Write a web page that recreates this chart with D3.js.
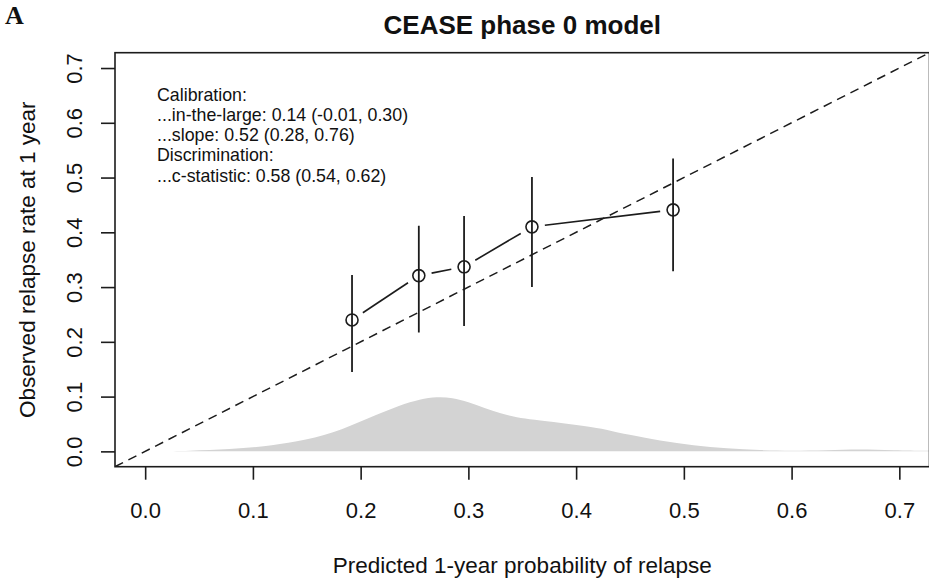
<!DOCTYPE html>
<html>
<head>
<meta charset="utf-8">
<script src="https://cdn.jsdelivr.net/npm/d3@7"></script>
<style>
  body { margin: 0; background: #fff; }
  svg { display: block; }
  text { font-family: "Liberation Sans", Arial, Helvetica, sans-serif; fill: #111; }
</style>
</head>
<body>
<svg id="chart" width="929" height="580"></svg>
<script>
// Grouped calibration points: mean predicted risk vs observed relapse rate
const predicted = [0.192, 0.254, 0.296, 0.359, 0.490];
const observed  = [0.240, 0.321, 0.337, 0.410, 0.441];
const ciLower   = [0.145, 0.217, 0.229, 0.300, 0.329];
const ciUpper   = [0.322, 0.412, 0.430, 0.501, 0.535];

// Distribution of predicted probabilities (scaled density strip along the bottom)
const densityX = [0.010, 0.040, 0.080, 0.110, 0.140, 0.175, 0.206, 0.237, 0.255, 0.271,
                  0.285, 0.300, 0.315, 0.330, 0.345, 0.360, 0.385, 0.416, 0.432, 0.447,
                  0.478, 0.509, 0.540, 0.571, 0.600, 0.633, 0.663, 0.694, 0.728];
const densityY = [0.000, 0.001, 0.004, 0.009, 0.017, 0.033, 0.060, 0.085, 0.095, 0.100,
                  0.098, 0.090, 0.079, 0.069, 0.062, 0.058, 0.052, 0.044, 0.038, 0.031,
                  0.019, 0.011, 0.005, 0.002, 0.001, 0.002, 0.004, 0.002, 0.001];

const xTicks = [0.0, 0.1, 0.2, 0.3, 0.4, 0.5, 0.6, 0.7];
const yTicks = [0.0, 0.1, 0.2, 0.3, 0.4, 0.5, 0.6, 0.7];
const axisLimits = [-0.028, 0.728];

const statLines = [
  "Calibration:",
  "...in-the-large: 0.14 (-0.01, 0.30)",
  "...slope: 0.52 (0.28, 0.76)",
  "Discrimination:",
  "...c-statistic: 0.58 (0.54, 0.62)"
];

const chartTitle = "CEASE phase 0 model";
const xTitle = "Predicted 1-year probability of relapse";
const yTitle = "Observed relapse rate at 1 year";
const panelLabel = "A";

const svg = d3.select("#chart");
const plot = { left: 115, top: 52.7, right: 929.5, bottom: 466.7 };
const ink = "#1c1c1c";

const x = d3.scaleLinear().domain(axisLimits).range([plot.left, plot.right]);
const y = d3.scaleLinear().domain(axisLimits).range([plot.bottom, plot.top]);

svg.append("defs").append("clipPath").attr("id", "plot-clip")
  .append("rect")
  .attr("x", plot.left).attr("y", plot.top)
  .attr("width", plot.right - plot.left).attr("height", plot.bottom - plot.top);

const body = svg.append("g").attr("clip-path", "url(#plot-clip)");

// density strip
const density = densityX.map((d, i) => ({ x: d, y: densityY[i] }));
body.append("path")
  .datum(density)
  .attr("fill", "#d3d3d3")
  .attr("d", d3.area()
    .x(d => x(d.x))
    .y0(y(0))
    .y1(d => y(d.y))
    .curve(d3.curveBasis));

// ideal calibration line
body.append("line")
  .attr("x1", x(axisLimits[0])).attr("y1", y(axisLimits[0]))
  .attr("x2", x(axisLimits[1])).attr("y2", y(axisLimits[1]))
  .attr("stroke", ink).attr("stroke-width", 1.5)
  .attr("stroke-dasharray", "9,6");

const pts = predicted.map((p, i) => ({
  p, o: observed[i], lo: ciLower[i], hi: ciUpper[i]
}));

// confidence intervals
body.selectAll("line.ci").data(pts).join("line")
  .attr("class", "ci")
  .attr("x1", d => x(d.p)).attr("x2", d => x(d.p))
  .attr("y1", d => y(d.lo)).attr("y2", d => y(d.hi))
  .attr("stroke", ink).attr("stroke-width", 1.8);

// connecting segments, stopping short of each marker
const gap = 13;
const segs = d3.pairs(pts).map(([a, b]) => {
  const ax = x(a.p), ay = y(a.o), bx = x(b.p), by = y(b.o);
  const len = Math.hypot(bx - ax, by - ay);
  const ux = (bx - ax) / len, uy = (by - ay) / len;
  return { x1: ax + ux * gap, y1: ay + uy * gap, x2: bx - ux * gap, y2: by - uy * gap };
});
body.selectAll("line.seg").data(segs).join("line")
  .attr("class", "seg")
  .attr("x1", d => d.x1).attr("y1", d => d.y1)
  .attr("x2", d => d.x2).attr("y2", d => d.y2)
  .attr("stroke", ink).attr("stroke-width", 1.6);

// markers
body.selectAll("circle.pt").data(pts).join("circle")
  .attr("class", "pt")
  .attr("cx", d => x(d.p)).attr("cy", d => y(d.o))
  .attr("r", 6)
  .attr("fill", "none").attr("stroke", ink).attr("stroke-width", 1.6);

// plot frame
svg.append("rect")
  .attr("x", plot.left).attr("y", plot.top)
  .attr("width", plot.right - plot.left).attr("height", plot.bottom - plot.top)
  .attr("fill", "none").attr("stroke", ink).attr("stroke-width", 1.6);

// x axis
const gx = svg.append("g")
  .attr("transform", `translate(0,${plot.bottom})`)
  .call(d3.axisBottom(x).tickValues(xTicks).tickFormat(d3.format(".1f"))
    .tickSize(13).tickPadding(23));
gx.select(".domain").remove();
gx.selectAll(".tick line").attr("stroke", ink).attr("stroke-width", 1.6);
gx.selectAll(".tick text").attr("font-size", 22).attr("fill", "#111")
  .style("font-family", '"Liberation Sans", Arial, sans-serif');

// y axis, labels parallel to the axis
const gy = svg.append("g")
  .attr("transform", `translate(${plot.left},0)`)
  .call(d3.axisLeft(y).tickValues(yTicks).tickFormat(d3.format(".1f")).tickSize(14));
gy.select(".domain").remove();
gy.selectAll(".tick line").attr("stroke", ink).attr("stroke-width", 1.6);
gy.selectAll(".tick text")
  .attr("x", null).attr("dy", null)
  .attr("text-anchor", "middle")
  .attr("transform", "translate(-33,0) rotate(-90)")
  .attr("font-size", 22).attr("fill", "#111")
  .style("font-family", '"Liberation Sans", Arial, sans-serif');

// stats block
svg.append("g").selectAll("text").data(statLines).join("text")
  .attr("x", 157)
  .attr("y", (d, i) => 100.5 + i * 20.3)
  .attr("font-size", 17.8)
  .text(d => d);

// titles
svg.append("text")
  .attr("x", (plot.left + plot.right) / 2).attr("y", 34)
  .attr("text-anchor", "middle")
  .attr("font-size", 26).attr("font-weight", "bold")
  .text(chartTitle);

svg.append("text")
  .attr("x", (plot.left + plot.right) / 2).attr("y", 573)
  .attr("text-anchor", "middle")
  .attr("font-size", 22.5)
  .text(xTitle);

svg.append("text")
  .attr("transform", `translate(35,${(plot.top + plot.bottom) / 2}) rotate(-90)`)
  .attr("text-anchor", "middle")
  .attr("font-size", 22.5)
  .text(yTitle);

svg.append("text")
  .attr("x", 5).attr("y", 24)
  .attr("font-size", 26).attr("font-weight", "bold")
  .style("font-family", '"Liberation Serif", "Times New Roman", serif')
  .text(panelLabel);
</script>
</body>
</html>
